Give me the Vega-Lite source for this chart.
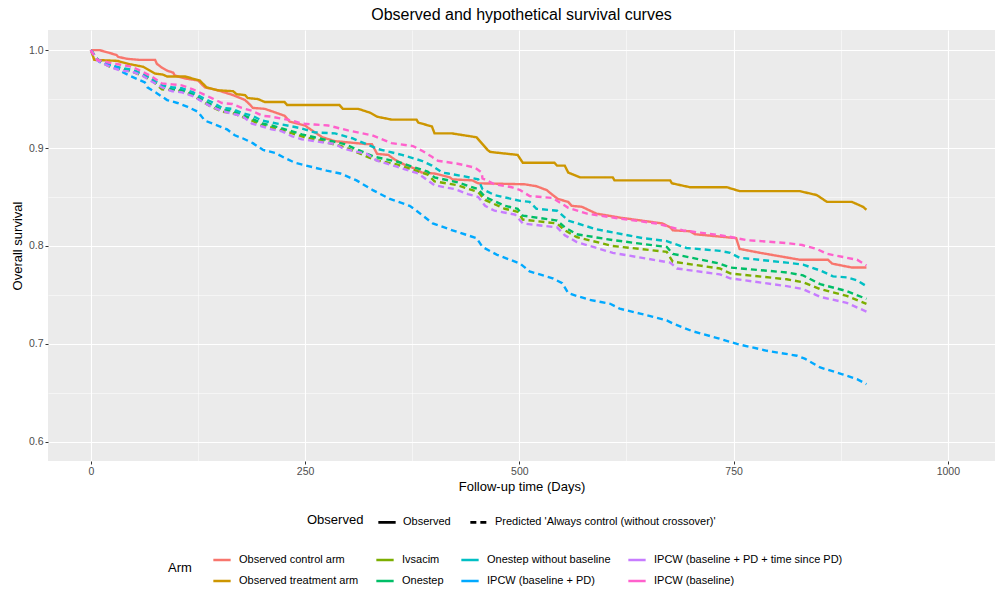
{
  "$schema": "https://vega.github.io/schema/vega-lite/v6.json",
  "width": 947,
  "height": 431,
  "autosize": {"type": "none"},
  "padding": {"left": 48, "top": 30, "right": 5, "bottom": 139},
  "background": "white",
  "title": {"text": "Observed and hypothetical survival curves", "fontSize": 16, "fontWeight": "normal", "font": "Liberation Sans", "anchor": "middle", "offset": 7, "color": "black"},
  "config": {"view": {"fill": "#EBEBEB", "stroke": null}, "font": "Liberation Sans"},
  "data": {"values": [
    {"arm": "Observed control arm", "Observed": "Observed",
     "t": [0,10,22,30,32,43,57,75,77,83,89,96,98,110,125,133,148,166,180,186,189,203,226,232,250,253,270,285,322,328,334,347,355,366,378,386,401,419,422,445,452,506,520,532,539,545,557,561,573,585,590,617,667,676,679,699,705,753,757,781,827,860,865,888,905],
     "s": [1.0,1.0,0.997,0.995,0.993,0.991,0.990,0.990,0.986,0.982,0.979,0.977,0.974,0.971,0.969,0.962,0.959,0.954,0.949,0.944,0.941,0.940,0.933,0.927,0.923,0.921,0.911,0.907,0.904,0.904,0.894,0.893,0.888,0.883,0.879,0.875,0.874,0.870,0.868,0.867,0.864,0.863,0.861,0.857,0.852,0.848,0.845,0.841,0.840,0.835,0.833,0.829,0.823,0.819,0.816,0.815,0.812,0.808,0.797,0.793,0.786,0.786,0.782,0.778,0.778]},
    {"arm": "Observed treatment arm", "Observed": "Observed",
     "t": [0,4,31,43,61,75,84,89,110,127,135,148,166,170,180,183,195,203,226,229,290,294,312,326,334,351,380,382,398,401,421,450,456,463,466,498,504,541,544,553,557,571,609,611,676,678,699,742,757,827,847,859,888,901,905],
     "s": [1.0,0.99,0.989,0.986,0.983,0.976,0.975,0.973,0.973,0.969,0.962,0.959,0.958,0.955,0.954,0.951,0.950,0.947,0.947,0.944,0.944,0.940,0.940,0.936,0.932,0.929,0.929,0.926,0.922,0.915,0.915,0.911,0.905,0.898,0.896,0.893,0.885,0.885,0.882,0.882,0.875,0.870,0.870,0.867,0.867,0.864,0.860,0.860,0.856,0.856,0.852,0.845,0.845,0.840,0.837]},
    {"arm": "Ivsacim", "Observed": "Predicted 'Always control (without crossover)'",
     "t": [0,8,22,35,48,60,71,83,95,106,119,131,141,153,165,176,188,200,211,223,235,246,261,296,331,358,375,393,401,428,452,460,483,498,504,544,553,567,609,672,679,734,746,812,831,851,882,905],
     "s": [1.0,0.990,0.983,0.980,0.978,0.974,0.969,0.960,0.959,0.958,0.954,0.947,0.942,0.937,0.936,0.932,0.928,0.923,0.921,0.918,0.915,0.912,0.909,0.901,0.888,0.883,0.878,0.873,0.866,0.862,0.855,0.847,0.838,0.835,0.827,0.823,0.816,0.809,0.800,0.794,0.784,0.777,0.772,0.766,0.763,0.756,0.749,0.741]},
    {"arm": "Onestep", "Observed": "Predicted 'Always control (without crossover)'",
     "t": [0,8,22,35,48,60,71,83,95,106,119,131,141,153,165,176,188,200,211,223,235,246,261,296,331,358,375,393,401,428,452,460,483,498,504,544,553,567,609,672,679,734,746,812,831,851,882,905],
     "s": [1.0,0.990,0.984,0.981,0.979,0.975,0.970,0.962,0.960,0.959,0.955,0.949,0.944,0.939,0.938,0.934,0.930,0.925,0.923,0.920,0.917,0.914,0.911,0.904,0.891,0.886,0.881,0.876,0.870,0.865,0.858,0.850,0.841,0.838,0.831,0.826,0.819,0.812,0.806,0.799,0.792,0.782,0.778,0.773,0.770,0.761,0.754,0.746]},
    {"arm": "Onestep without baseline", "Observed": "Predicted 'Always control (without crossover)'",
     "t": [0,8,22,35,48,60,71,83,95,106,119,131,141,153,165,176,188,200,211,223,235,246,261,285,305,335,363,386,398,410,417,436,452,457,471,501,512,520,544,557,590,644,672,695,734,746,757,812,831,851,866,882,894,905],
     "s": [1.0,0.990,0.985,0.982,0.980,0.976,0.971,0.964,0.962,0.961,0.957,0.951,0.947,0.941,0.940,0.936,0.933,0.928,0.926,0.924,0.922,0.920,0.916,0.915,0.910,0.899,0.893,0.887,0.882,0.875,0.874,0.871,0.868,0.858,0.852,0.846,0.845,0.838,0.836,0.826,0.817,0.808,0.805,0.798,0.795,0.793,0.788,0.783,0.781,0.775,0.769,0.768,0.765,0.759]},
    {"arm": "IPCW (baseline + PD)", "Observed": "Predicted 'Always control (without crossover)'",
     "t": [0,2,10,22,31,34,45,63,66,77,89,101,113,125,133,145,159,168,177,189,201,215,226,238,247,275,291,310,329,349,372,380,399,422,450,457,474,501,512,539,550,557,567,582,606,617,641,672,679,702,731,754,789,824,833,851,877,894,905],
     "s": [1.0,0.997,0.988,0.985,0.982,0.979,0.974,0.967,0.962,0.956,0.949,0.946,0.942,0.937,0.928,0.924,0.919,0.913,0.910,0.905,0.898,0.895,0.890,0.885,0.883,0.877,0.874,0.867,0.857,0.848,0.841,0.836,0.823,0.816,0.808,0.799,0.791,0.782,0.774,0.767,0.762,0.752,0.749,0.745,0.741,0.736,0.731,0.724,0.721,0.713,0.706,0.700,0.693,0.688,0.685,0.676,0.669,0.664,0.659]},
    {"arm": "IPCW (baseline + PD + time since PD)", "Observed": "Predicted 'Always control (without crossover)'",
     "t": [0,8,22,35,48,60,71,83,95,106,119,131,141,153,165,176,188,200,211,223,235,246,285,296,322,334,357,382,401,425,440,452,460,471,495,504,544,553,567,609,676,684,734,746,812,831,851,882,905],
     "s": [1.0,0.989,0.983,0.979,0.978,0.974,0.968,0.962,0.958,0.957,0.953,0.947,0.942,0.938,0.935,0.933,0.925,0.922,0.919,0.917,0.912,0.909,0.904,0.899,0.894,0.887,0.881,0.874,0.862,0.858,0.853,0.850,0.841,0.836,0.832,0.823,0.819,0.811,0.804,0.793,0.783,0.777,0.771,0.767,0.759,0.756,0.748,0.742,0.733]},
    {"arm": "IPCW (baseline)", "Observed": "Predicted 'Always control (without crossover)'",
     "t": [0,1,8,22,35,48,60,71,83,95,106,119,131,141,153,165,176,188,200,211,223,235,246,261,277,300,328,351,376,387,398,405,428,448,456,457,471,491,501,512,539,557,579,617,660,691,742,765,812,830,847,859,882,894,905],
     "s": [1.0,0.998,0.990,0.987,0.985,0.983,0.978,0.973,0.966,0.965,0.964,0.960,0.955,0.951,0.946,0.945,0.941,0.938,0.933,0.932,0.930,0.928,0.925,0.924,0.923,0.918,0.913,0.905,0.902,0.897,0.891,0.887,0.884,0.880,0.875,0.869,0.863,0.860,0.857,0.851,0.849,0.839,0.833,0.828,0.823,0.816,0.810,0.806,0.803,0.801,0.797,0.792,0.788,0.786,0.780]}
  ]},
  "transform": [{"flatten": ["t", "s"]}],
  "mark": {"type": "line", "strokeWidth": 2.4},
  "encoding": {
    "x": {
      "field": "t", "type": "quantitative",
      "scale": {"domain": [-50, 1055], "nice": false, "zero": false},
      "axis": {
        "title": "Follow-up time (Days)", "titleFontSize": 13, "titleFontWeight": "normal", "titleColor": "black", "titlePadding": 4,
        "values": [0, 125, 250, 375, 500, 625, 750, 875, 1000], "format": "d",
        "labelExpr": "datum.value % 250 === 0 ? datum.label : ''",
        "labelColor": "#4D4D4D", "labelFontSize": 10.5, "labelPadding": 2,
        "domain": false, "tickColor": "#333333", "tickSize": 3,
        "tickOpacity": {"condition": {"test": "datum.value % 250 !== 0", "value": 0}, "value": 1},
        "gridColor": "white",
        "gridWidth": {"condition": {"test": "datum.value % 250 !== 0", "value": 0.5}, "value": 1.1}
      }
    },
    "y": {
      "field": "s", "type": "quantitative",
      "scale": {"domain": [0.5805, 1.0205], "nice": false, "zero": false},
      "axis": {
        "title": "Overall survival", "titleFontSize": 13, "titleFontWeight": "normal", "titleColor": "black", "titlePadding": 4,
        "values": [0.6, 0.65, 0.7, 0.75, 0.8, 0.85, 0.9, 0.95, 1.0], "format": ".1f",
        "labelExpr": "abs(datum.value * 10 - round(datum.value * 10)) < 0.1 ? datum.label : ''",
        "labelColor": "#4D4D4D", "labelFontSize": 10.5, "labelPadding": 2,
        "domain": false, "tickColor": "#333333", "tickSize": 3,
        "tickOpacity": {"condition": {"test": "abs(datum.value * 10 - round(datum.value * 10)) > 0.1", "value": 0}, "value": 1},
        "gridColor": "white",
        "gridWidth": {"condition": {"test": "abs(datum.value * 10 - round(datum.value * 10)) > 0.1", "value": 0.5}, "value": 1.1}
      }
    },
    "color": {
      "field": "arm", "type": "nominal",
      "scale": {
        "domain": ["Observed control arm", "Observed treatment arm", "Ivsacim", "Onestep", "Onestep without baseline", "IPCW (baseline + PD)", "IPCW (baseline + PD + time since PD)", "IPCW (baseline)"],
        "range": ["#F8766D", "#CD9600", "#7CAE00", "#00BE67", "#00BFC4", "#00A9FF", "#C77CFF", "#FF61CC"]
      },
      "legend": {
        "title": "Arm", "orient": "none", "legendX": 120, "legendY": 520, "columns": 4,
        "titleOrient": "left", "titleAngle": 0, "titleAnchor": "middle", "titleBaseline": "middle",
        "titleFontSize": 13, "titleFontWeight": "normal", "titleColor": "black", "titlePadding": 20,
        "symbolType": "stroke", "symbolStrokeWidth": 2.4, "symbolSize": 300, "symbolDash": [1, 0],
        "labelFontSize": 11, "labelColor": "black", "labelLimit": 400, "labelOffset": 7,
        "columnPadding": 12, "rowPadding": 6
      }
    },
    "strokeDash": {
      "field": "Observed", "type": "nominal",
      "scale": {"domain": ["Observed", "Predicted 'Always control (without crossover)'"], "range": [[1, 0], [6, 4]]},
      "legend": {
        "title": "Observed", "orient": "none", "legendX": 259, "legendY": 482, "direction": "horizontal",
        "titleOrient": "left", "titleAngle": 0, "titleAnchor": "middle", "titleBaseline": "middle",
        "titleFontSize": 13, "titleFontWeight": "normal", "titleColor": "black", "titlePadding": 13,
        "symbolType": "stroke", "symbolStrokeColor": "black", "symbolStrokeWidth": 2.6, "symbolSize": 300,
        "labelFontSize": 11, "labelColor": "black", "labelLimit": 400, "labelOffset": 6, "columnPadding": 14
      }
    }
  }
}
